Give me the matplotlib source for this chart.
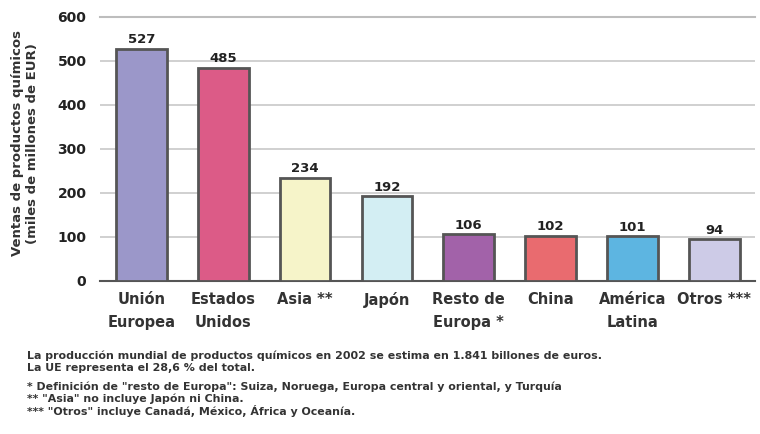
import matplotlib.pyplot as plt

# Ventas de productos químicos por región (miles de millones de EUR)
regiones = ["Unión\nEuropea", "Estados\nUnidos", "Asia **", "Japón",
            "Resto de\nEuropa *", "China", "América\nLatina", "Otros ***"]
ventas = [527, 485, 234, 192, 106, 102, 101, 94]
colores = ["#9b97c9", "#dc5b87", "#f6f4c9", "#d3eef3",
           "#a262a9", "#e96b6f", "#5db5e1", "#cdcbe7"]

notas = [
    "La producción mundial de productos químicos en 2002 se estima en 1.841 billones de euros.",
    "La UE representa el 28,6 % del total.",
    "* Definición de \"resto de Europa\": Suiza, Noruega, Europa central y oriental, y Turquía",
    "** \"Asia\" no incluye Japón ni China.",
    "*** \"Otros\" incluye Canadá, México, África y Oceanía.",
]

plt.rcParams['font.family'] = ['DejaVu Sans']

fig = plt.figure(figsize=(7.6, 4.34), dpi=100)
ax = fig.add_axes([0.132, 0.353, 0.862, 0.608])

x = range(len(ventas))
bars = ax.bar(x, ventas, width=0.62, color=colores, edgecolor="#555555",
              linewidth=2, zorder=3)
for b, v in zip(bars, ventas):
    ax.text(b.get_x() + b.get_width() / 2, v + 6, str(v), ha="center",
            va="bottom", fontsize=9.5, fontweight="bold", color="#222222")

ax.set_xlim(-0.5, 7.5)
ax.set_ylim(0, 600)
ax.set_yticks(range(0, 601, 100))
ax.set_yticklabels([str(t) for t in range(0, 601, 100)], fontsize=10,
                   fontweight="bold", color="#222222")
ax.set_xticks(list(x))
ax.set_xticklabels(regiones, fontsize=10.5, fontweight="bold", color="#333333",
                   linespacing=1.65)
ax.tick_params(axis="x", length=0, pad=8)
ax.tick_params(axis="y", length=0, pad=10)
ax.grid(axis="y", color="#c8c8c8", linewidth=1.2, zorder=0)
for s in ["left", "right"]:
    ax.spines[s].set_visible(False)
ax.spines["top"].set_color("#bdbdbd")
ax.spines["top"].set_linewidth(1.5)
ax.spines["bottom"].set_color("#555555")
ax.spines["bottom"].set_linewidth(1.5)

fig.text(0.033, 0.67, "Ventas de productos químicos\n(miles de millones de EUR)",
         rotation=90, ha="center", va="center", fontsize=9.5,
         fontweight="bold", color="#333333", linespacing=1.2)

ys = [0.180, 0.152, 0.110, 0.082, 0.053]
for y, t in zip(ys, notas):
    fig.text(0.036, y, t, fontsize=7.9, fontweight="bold", color="#333333",
             va="center")

fig.savefig("out.png", dpi=100)
